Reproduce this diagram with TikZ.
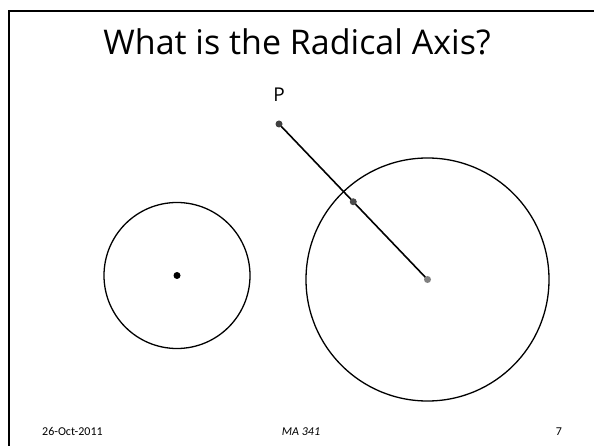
\documentclass[tikz,border=0pt]{standalone}
\usepackage{fontspec}
\usetikzlibrary{calc}
\setmainfont{Carlito}
\newfontfamily\slidefont{Open Sans}
\begin{document}
\begin{tikzpicture}[x=1pt, y=-1pt,
  every node/.style={inner sep=0pt},
  circ/.style={draw=black, line width=1.3pt},
  seg/.style={draw=black, line width=1.6pt},
  dot/.style={circle, minimum size=7pt, inner sep=0pt},
  foot/.style={font=\fontsize{12}{14}\selectfont, anchor=base}
]
\useasboundingbox (0,0) rectangle (594,446);
% Slide frame (left and top edges)
\draw[line width=2pt] (8.5,446) -- (8.5,11) -- (594,11);

% Title
\node[font=\slidefont\fontsize{34}{40}\selectfont, anchor=base] (title) at (297,55) {What is the Radical Axis?};

% Points
\coordinate (P) at (279,124);
\coordinate (O1) at (177,275.5);
\coordinate (O2) at (427.5,279.5);
\coordinate (M) at ($(P)!0.5!(O2)$);

% Circles
\draw[circ] (O1) circle (73);
\draw[circ] (O2) circle (121.5);

% Segment from P to the centre of the big circle
\draw[seg] (P) -- (O2);

% Dots
\node[dot, fill=black!75] (p) at (P) {};
\node[dot, fill=black!70] (m) at (M) {};
\node[dot, fill=black] (o1) at (O1) {};
\node[dot, fill=black!50] (o2) at (O2) {};
\node[font=\slidefont\fontsize{19}{22}\selectfont, anchor=base] (plabel) at (279,102) {P};

% Footer
\node[foot, anchor=base west] (date) at (42,435) {26-Oct-2011};
\node[foot] (course) at (301,435) {\itshape MA 341};
\node[foot] (page) at (559,435) {7};
\end{tikzpicture}
\end{document}
